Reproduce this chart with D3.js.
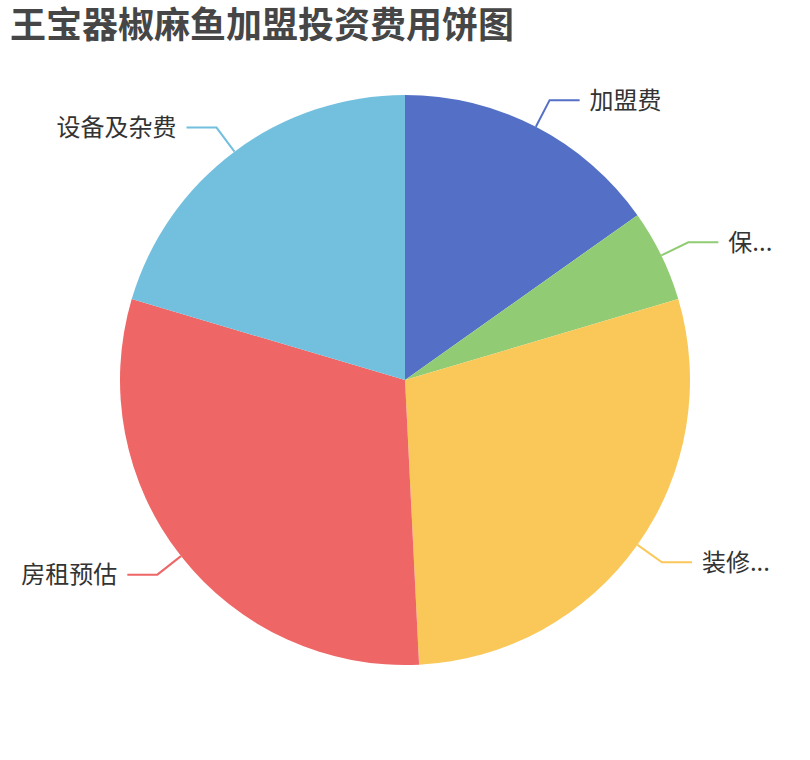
<!DOCTYPE html>
<html lang="zh">
<head>
    <meta charset="UTF-8">
    <script src="https://d3js.org/d3.v7.min.js"></script>
    <style>
        body { margin: 0; background: #fff; }
        text { font-family: "Noto Sans CJK SC", "Noto Sans", sans-serif; }
    </style>
</head>
<body>
    <svg id="chart" width="810" height="760"></svg>
    <script>
        // 费用项目 (标签按原图截断显示)
        const categories = ["加盟费", "保...", "装修...", "房租预估", "设备及杂费"];
        const values = [29000, 10000, 55000, 58000, 39000];
        const colors = ["#5470c6", "#91cc75", "#fac858", "#ee6666", "#73c0de"];

        const width = 810, height = 760;
        const cx = 405, cy = 380, radius = 285;
        const len1 = 30, len2 = 30, gap = 10;

        const svg = d3.select("#chart")
            .attr("width", width)
            .attr("height", height);

        svg.append("text")
            .attr("x", 10)
            .attr("y", 38)
            .style("font-size", "36px")
            .style("font-weight", "bold")
            .style("fill", "#464646")
            .text("王宝器椒麻鱼加盟投资费用饼图");

        const data = categories.map((c, i) => ({ name: c, value: values[i], color: colors[i] }));

        const pie = d3.pie().sort(null).value(d => d.value);
        const arcs = pie(data);
        const arc = d3.arc().innerRadius(0).outerRadius(radius);

        const g = svg.append("g").attr("transform", `translate(${cx},${cy})`);

        g.selectAll("path.slice")
            .data(arcs)
            .enter().append("path")
            .attr("class", "slice")
            .attr("d", arc)
            .attr("fill", d => d.data.color);

        // 引导线和标签
        const pt = (a, r) => [r * Math.sin(a), -r * Math.cos(a)];
        arcs.forEach(d => {
            const mid = (d.startAngle + d.endAngle) / 2;
            const p0 = pt(mid, radius);
            const p1 = pt(mid, radius + len1);
            const right = Math.sin(mid) >= 0;
            const p2 = [p1[0] + (right ? len2 : -len2), p1[1]];

            g.append("polyline")
                .attr("points", [p0, p1, p2].map(p => p.join(",")).join(" "))
                .attr("fill", "none")
                .attr("stroke", d.data.color)
                .attr("stroke-width", 2);

            g.append("text")
                .attr("x", p2[0] + (right ? gap : -gap))
                .attr("y", p2[1])
                .attr("dy", "0.35em")
                .attr("text-anchor", right ? "start" : "end")
                .style("font-size", "24px")
                .style("fill", "#333")
                .text(d.data.name);
        });
    </script>
</body>
</html>
